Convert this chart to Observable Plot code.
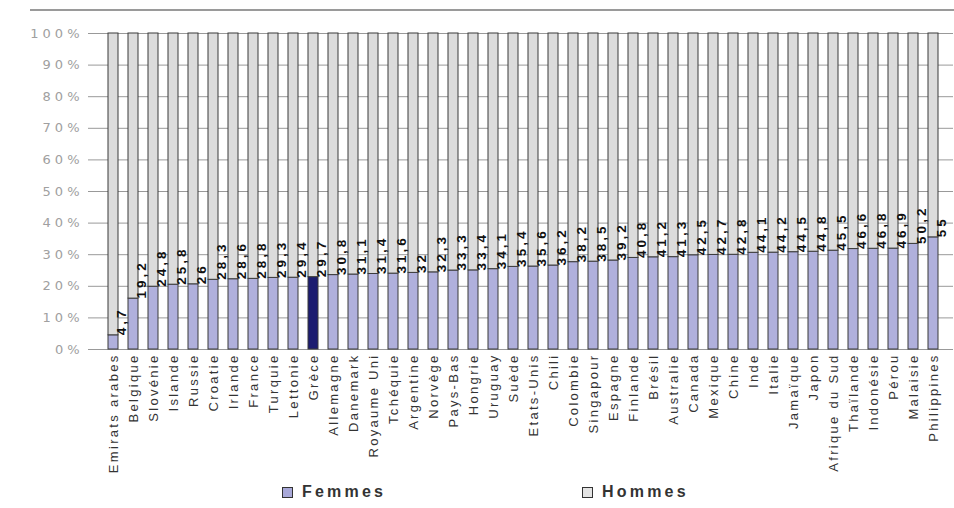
<!DOCTYPE html>
<html>
<head>
<meta charset="utf-8">
<script src="https://cdn.jsdelivr.net/npm/d3@7"></script>
<script src="https://cdn.jsdelivr.net/npm/@observablehq/plot@0.6"></script>
<style>
  html, body { margin: 0; padding: 0; background: #fff; }
  #wrap { position: relative; width: 954px; height: 508px; overflow: hidden; font-family: "Liberation Sans", Arial, sans-serif; }
  #topline { position: absolute; left: 30px; right: 0; top: 9px; height: 0; border-top: 2px solid #9a9a9a; }
  #chart { position: absolute; left: 0; top: 0; }
  .legend { position: absolute; top: 483px; display: flex; align-items: center; gap: 9px; font-weight: bold; font-size: 16px; letter-spacing: 3.2px; color: #333; }
  .sw { width: 9px; height: 9px; border: 1px solid #333; }
</style>
</head>
<body>
<div id="wrap">
  <div id="topline"></div>
  <div id="chart"></div>
  <div class="legend" style="left:282px"><span class="sw" style="background:#a8a8d8"></span>Femmes</div>
  <div class="legend" style="left:582px"><span class="sw" style="background:#e4e4e4"></span>Hommes</div>
</div>
<script>
// Pays, dans l'ordre croissant de la part des femmes
const pays = ["Emirats arabes", "Belgique", "Slovénie", "Islande", "Russie", "Croatie", "Irlande",
  "France", "Turquie", "Lettonie", "Grèce", "Allemagne", "Danemark", "Royaume Uni", "Tchéquie",
  "Argentine", "Norvège", "Pays-Bas", "Hongrie", "Uruguay", "Suède", "Etats-Unis", "Chili",
  "Colombie", "Singapour", "Espagne", "Finlande", "Brésil", "Australie", "Canada", "Mexique",
  "Chine", "Inde", "Italie", "Jamaïque", "Japon", "Afrique du Sud", "Thaïlande", "Indonésie",
  "Pérou", "Malaisie", "Philippines"];

// Femmes pour 100 hommes
const femmes = [4.7, 19.2, 24.8, 25.8, 26, 28.3, 28.6, 28.8, 29.3, 29.4, 29.7, 30.8, 31.1, 31.4,
  31.6, 32, 32.3, 33.3, 33.4, 34.1, 35.4, 35.6, 36.2, 38.2, 38.5, 39.2, 40.8, 41.2, 41.3, 42.5,
  42.7, 42.8, 44.1, 44.2, 44.5, 44.8, 45.5, 46.6, 46.8, 46.9, 50.2, 55];

const hommes = [100, 100, 100, 100, 100, 100, 100, 100, 100, 100, 100, 100, 100, 100,
  100, 100, 100, 100, 100, 100, 100, 100, 100, 100, 100, 100, 100, 100, 100, 100,
  100, 100, 100, 100, 100, 100, 100, 100, 100, 100, 100, 100];

const yTicks = [0, 0.1, 0.2, 0.3, 0.4, 0.5, 0.6, 0.7, 0.8, 0.9, 1];
const paysMisEnAvant = "Grèce";

const rows = [];
pays.forEach((p, i) => {
  rows.push({pays: p, sexe: "Femmes", valeur: femmes[i]});
  rows.push({pays: p, sexe: "Hommes", valeur: hommes[i]});
});
const etiquettes = pays.map((p, i) => ({pays: p, part: femmes[i] / (femmes[i] + hommes[i]), valeur: femmes[i]}));
const fr = d3.formatLocale({decimal: ",", thousands: " ", grouping: [3], currency: ["", " €"]});

const chart = Plot.plot({
  width: 954,
  height: 480,
  marginLeft: 93,
  marginRight: 1,
  marginTop: 33,
  marginBottom: 131,
  style: {fontFamily: "Liberation Sans, Arial, sans-serif", background: "transparent"},
  x: {domain: pays, paddingInner: 0.5, paddingOuter: 0.3, label: null},
  y: {domain: [0, 1], ticks: yTicks, label: null},
  marks: [
    Plot.gridY(yTicks, {stroke: "#999", strokeOpacity: 1, strokeWidth: 1}),
    Plot.axisY(yTicks, {tickFormat: d => Math.round(d * 100) + "%", tickSize: 5, stroke: "#999",
      tickPadding: 5, fontSize: 13, fill: "#a0a0a0", fontFamily: "DejaVu Sans"}),
    Plot.barY(rows, Plot.stackY({
      offset: "normalize",
      order: ["Femmes", "Hommes"],
      x: "pays",
      y: "valeur",
      z: "sexe",
      fill: d => d.sexe === "Hommes" ? "#dcdcdc" : (d.pays === paysMisEnAvant ? "#1c1c70" : "#b0b0dc"),
      stroke: "#3a3a3a",
      strokeWidth: 1
    })),
    Plot.text(etiquettes, {
      x: "pays",
      y: "part",
      text: d => fr.format(",")(d.valeur),
      rotate: -90,
      textAnchor: "start",
      lineAnchor: "middle",
      dx: 8,
      fontSize: 13.5,
      fontWeight: "bold",
      fill: "#111"
    }),
    Plot.axisX({tickRotate: -90, tickSize: 0, tickPadding: 4, fontSize: 13, fill: "#333", label: null})
  ]
});

// Texte étiré : espacement des lettres sur les axes et les valeurs
const svg = d3.select(chart);
svg.selectAll('g[aria-label="x-axis tick label"] text').style("letter-spacing", "2.3px");
svg.selectAll('g[aria-label="y-axis tick label"] text').style("letter-spacing", "4px");
svg.selectAll('g[aria-label="text"] text').style("letter-spacing", "3px");

document.getElementById("chart").appendChild(chart);
</script>
</body>
</html>
